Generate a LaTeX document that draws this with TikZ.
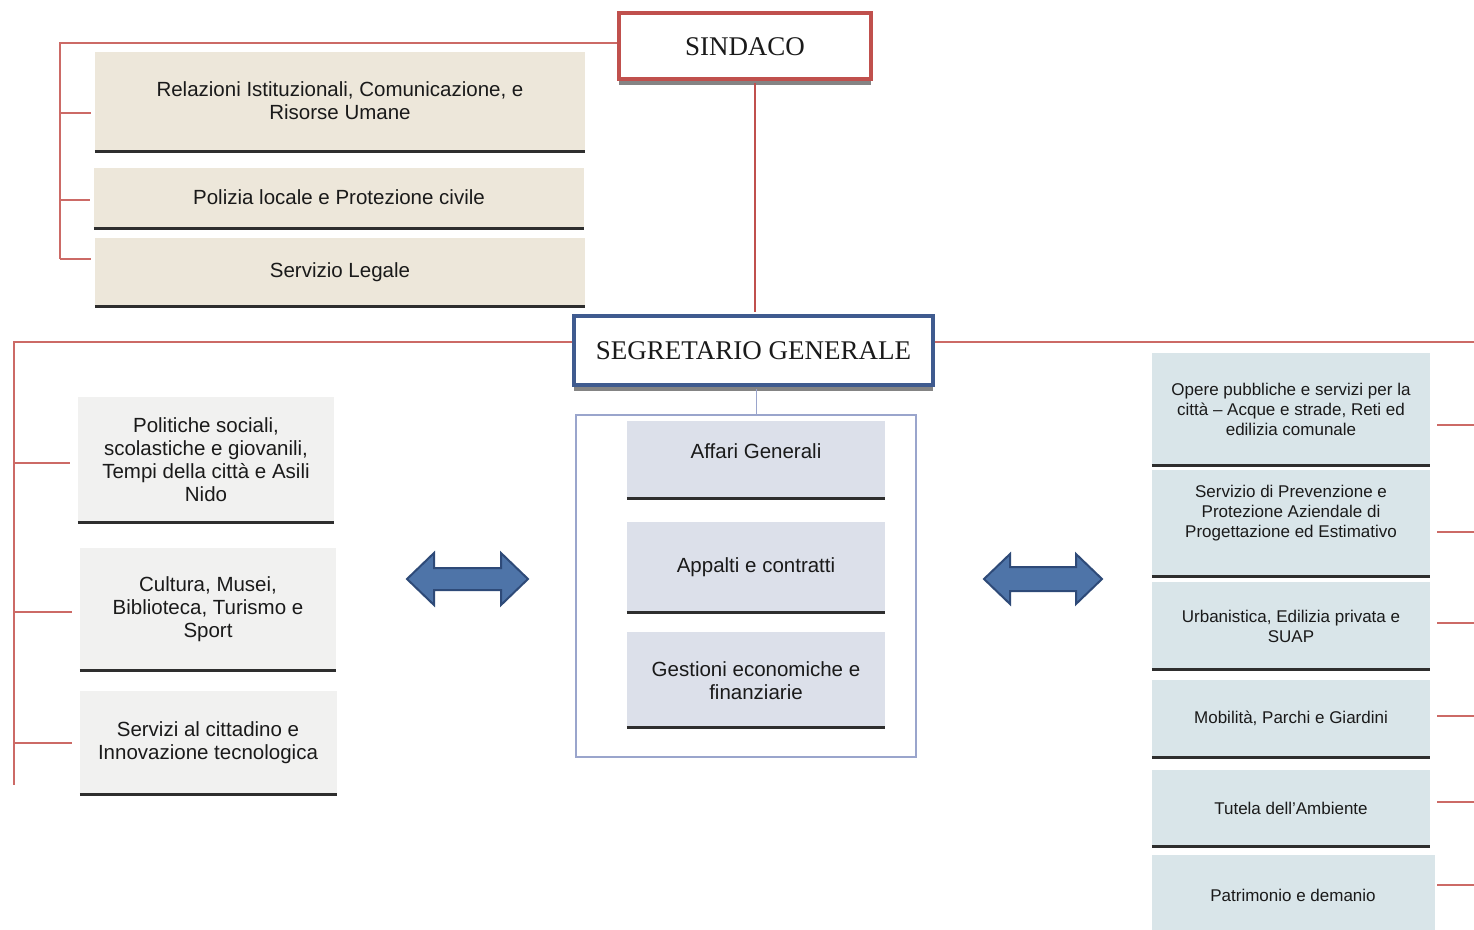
\documentclass[tikz,border=0pt]{standalone}
\usepackage{fontspec}
\setmainfont{Liberation Sans}
\newfontfamily\titlefont{Liberation Serif}
\usetikzlibrary{shadows,calc}
\definecolor{redl}{HTML}{CC6A66}
\definecolor{redb}{HTML}{C0504D}
\definecolor{blueb}{HTML}{3F5B8F}
\definecolor{grpc}{HTML}{9AA5CC}
\definecolor{beige}{HTML}{EDE7DA}
\definecolor{lgray}{HTML}{F1F1F0}
\definecolor{cblue}{HTML}{DCE0EA}
\definecolor{rblue}{HTML}{D9E5E9}
\definecolor{blc}{HTML}{2E2E2E}
\definecolor{txtc}{HTML}{1A1A1A}
\definecolor{arrf}{HTML}{4E74A8}
\definecolor{arrd}{HTML}{2E4A78}
\tikzset{
  box/.style={rectangle, inner sep=0pt, draw=none},
  tlbox/.style={box, fill=beige},
  lbox/.style={box, fill=lgray},
  cbox/.style={box, fill=cblue},
  rbox/.style={box, fill=rblue},
  txt/.style={align=center, inner sep=0pt, text=txtc, font=\fontsize{20.5}{23}\selectfont},
  rtxt/.style={txt, font=\fontsize{17}{20}\selectfont},
  bline/.style={draw=blc, line width=3pt},
  conn/.style={draw=redl, line width=1.8pt},
  gline/.style={draw=grpc, line width=1.8pt},
  headbox/.style={rectangle, fill=white, line width=3.5pt, inner sep=0pt,
    drop shadow={shadow xshift=0pt, shadow yshift=-6pt, fill=black!60, opacity=0.8}},
  arrowshape/.style={fill=arrf, draw=arrd, line width=2pt, line join=miter}
}
\begin{document}
\begin{tikzpicture}[x=1pt,y=-1pt]
\useasboundingbox (0,0) rectangle (1474,929);
\clip (0,0) rectangle (1474,929);
\fill[white] (0,0) rectangle (1474,929);

% head boxes
\node[headbox, draw=redb, minimum width=252, minimum height=66] (sind) at (745,46) {};
\node[inner sep=0pt, text=txtc, font=\titlefont\fontsize{27}{30}\selectfont] (sindt) at (745,47) {SINDACO};
\node[headbox, draw=blueb, minimum width=359, minimum height=69] (seg) at (753.5,350.5) {};
\node[inner sep=0pt, text=txtc, font=\titlefont\fontsize{27}{30}\selectfont] (segt) at (753.5,351) {SEGRETARIO GENERALE};

% top-left boxes
\node[tlbox, minimum width=490, minimum height=99] (t1) at (340,101.5) {};
\node[tlbox, minimum width=490, minimum height=60] (t2) at (339,198) {};
\node[tlbox, minimum width=490, minimum height=68] (t3) at (340,272) {};
\node[txt] (t1t) at (340,101) {Relazioni Istituzionali, Comunicazione, e\\Risorse Umane};
\node[txt] (t2t) at (339,197) {Polizia locale e Protezione civile};
\node[txt] (t3t) at (340,272) {Servizio Legale};

% left-bottom boxes
\node[lbox, minimum width=256, minimum height=125] (l1) at (206,459.5) {};
\node[lbox, minimum width=256, minimum height=122] (l2) at (208,609) {};
\node[lbox, minimum width=257, minimum height=103] (l3) at (208.5,742.5) {};
\node[txt] (l1t) at (206,460) {Politiche sociali,\\scolastiche e giovanili,\\Tempi della città e Asili\\Nido};
\node[txt] (l2t) at (208,609) {Cultura, Musei,\\Biblioteca, Turismo e\\Sport};
\node[txt] (l3t) at (208,743) {Servizi al cittadino e\\Innovazione tecnologica};

% centre group
\node[box, draw=grpc, line width=1.5pt, minimum width=340, minimum height=342] (grp) at (746,586) {};
\node[cbox, minimum width=258, minimum height=77] (c1) at (756,459.5) {};
\node[cbox, minimum width=258, minimum height=90] (c2) at (756,567) {};
\node[cbox, minimum width=258, minimum height=95] (c3) at (756,679.5) {};
\node[txt] (c1t) at (756,451) {Affari Generali};
\node[txt] (c2t) at (756,567) {Appalti e contratti};
\node[txt] (c3t) at (756,681) {Gestioni economiche e\\finanziarie};

% right boxes
\node[rbox, minimum width=278, minimum height=112] (r1) at (1291,409) {};
\node[rbox, minimum width=278, minimum height=106] (r2) at (1291,523) {};
\node[rbox, minimum width=278, minimum height=87] (r3) at (1291,625.5) {};
\node[rbox, minimum width=278, minimum height=77] (r4) at (1291,718.5) {};
\node[rbox, minimum width=278, minimum height=76] (r5) at (1291,808) {};
\node[rbox, minimum width=283, minimum height=80] (r6) at (1293.5,895) {};
\node[rtxt] (r1t) at (1291,409) {Opere pubbliche e servizi per la\\città – Acque e strade, Reti ed\\edilizia comunale};
\node[rtxt] (r2t) at (1291,513) {Servizio di Prevenzione e\\Protezione Aziendale di\\Progettazione ed Estimativo};
\node[rtxt] (r3t) at (1291,626) {Urbanistica, Edilizia privata e\\SUAP};
\node[rtxt] (r4t) at (1291,718) {Mobilità, Parchi e Giardini};
\node[rtxt] (r5t) at (1291,808) {Tutela dell'Ambiente};
\node[rtxt] (r6t) at (1293,895) {Patrimonio e demanio};

% bottom lines of boxes
\foreach \b in {t1,t2,t3,l1,l2,l3,c1,c2,c3,r1,r2,r3,r4,r5}
  \draw[bline] (\b.south west) -- (\b.south east);

% connectors from SINDACO
\coordinate (kT) at (60,43);
\coordinate (kB) at (60,259);
\draw[conn] (sind.west |- kT) -- (kT) -- (kB);
\foreach \yy/\b in {113/t1,200/t2,259/t3}{
  \coordinate (q) at (60,\yy);
  \draw[conn] (q) -- ($(\b.west |- q)+(-4,0)$);
}
\coordinate (vx) at (755,0);
\draw[draw=redb, line width=2.2pt] ($(sind.south -| vx)+(0,2)$) -- ($(seg.north -| vx)+(0,-2)$);

% connectors from SEGRETARIO
\coordinate (sL) at (14,342);
\coordinate (sLb) at (14,785);
\draw[conn] (seg.west |- sL) -- (sL) -- (sLb);
\foreach \yy/\b in {463/l1,612/l2,743/l3}{
  \coordinate (q) at (14,\yy);
  \draw[conn] (q) -- ($(\b.west |- q)+(-8,0)$);
}
\coordinate (sR) at (1474,342);
\draw[conn] (seg.east |- sR) -- (sR);
\foreach \yy/\b in {425/r1,532/r2,623/r3,716/r4,802/r5,885/r6}{
  \coordinate (q) at (1474,\yy);
  \draw[conn] ($(r1.east |- q)+(7,0)$) -- (q);
}
\coordinate (gx) at (756.5,0);
\draw[gline] ($(seg.south -| gx)+(0,2)$) -- (grp.north -| gx);

% double arrows
\path[arrowshape] (407,579) -- (434,553) -- (434,568) -- (501,568) -- (501,553)
  -- (528,579) -- (501,605) -- (501,590) -- (434,590) -- (434,605) -- cycle;
\path[arrowshape] (984,579) -- (1010,554) -- (1010,567) -- (1076,567) -- (1076,554)
  -- (1102,579) -- (1076,604) -- (1076,591) -- (1010,591) -- (1010,604) -- cycle;
\end{tikzpicture}
\end{document}
